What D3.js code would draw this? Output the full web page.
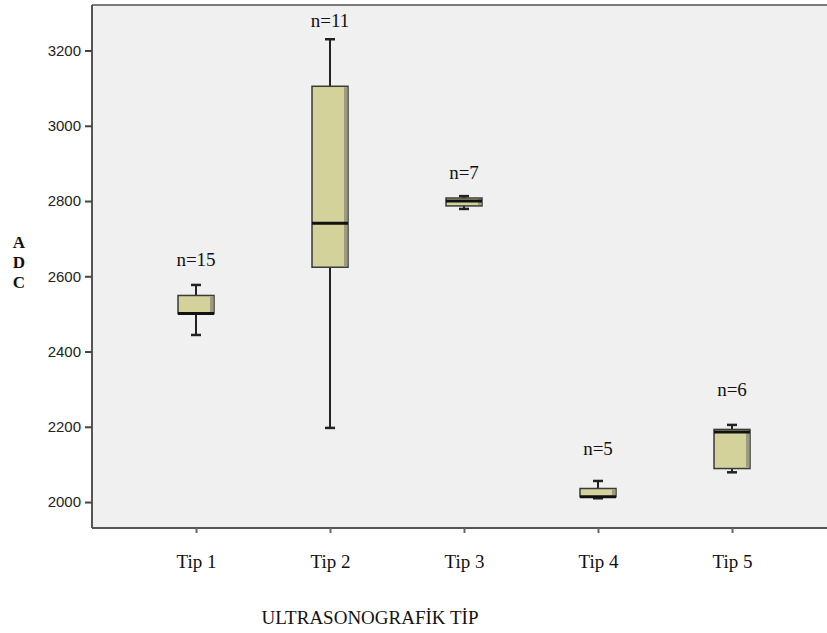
<!DOCTYPE html>
<html>
<head>
<meta charset="utf-8">
<script src="https://cdn.jsdelivr.net/npm/d3@7"></script>
<style>
  html, body { margin: 0; padding: 0; background: #fff; }
  svg { display: block; }
</style>
</head>
<body>
<svg width="827" height="633"></svg>
<script>
const svg = d3.select("svg");
const width = +svg.attr("width");
const height = +svg.attr("height");

// data
const categories = ["Tip 1", "Tip 2", "Tip 3", "Tip 4", "Tip 5"];
const counts = [15, 11, 7, 5, 6];
const whiskerLow = [2444, 2197, 2779, 2010, 2079];
const q1 = [2501, 2624, 2787, 2014, 2089];
const median = [2501, 2741, 2800, 2014, 2186];
const q3 = [2549, 3105, 2808, 2036, 2193];
const whiskerHigh = [2577, 3230, 2813, 2056, 2205];
// where the n= labels sit, in ADC units
const labelAt = [2627, 3262, 2858, 2125, 2282];
const yTicks = [2000, 2200, 2400, 2600, 2800, 3000, 3200];

const plot = { left: 92, top: 5, right: 835, bottom: 528 };
const serif = "'Liberation Serif', 'Times New Roman', serif";
const sans = "'Liberation Sans', Arial, sans-serif";

const x = d3.scalePoint().domain(categories).range([196, 732]);
const y = d3.scaleLinear().domain([1931, 3321]).range([plot.bottom, plot.top]);

// plot background
svg.append("rect")
  .attr("x", plot.left)
  .attr("y", plot.top)
  .attr("width", plot.right - plot.left)
  .attr("height", plot.bottom - plot.top)
  .attr("fill", "#f0f0f0");

// top frame line
svg.append("line")
  .attr("x1", plot.left).attr("x2", plot.right)
  .attr("y1", plot.top).attr("y2", plot.top)
  .attr("stroke", "#7a7a7a").attr("stroke-width", 2);

// y axis
const yAxis = svg.append("g")
  .attr("transform", `translate(${plot.left},0)`)
  .call(d3.axisLeft(y).tickValues(yTicks).tickSize(7).tickPadding(4).tickFormat(d3.format("d")));
yAxis.select(".domain").attr("stroke", "#555").attr("stroke-width", 2)
  .attr("d", `M0,${plot.top}V${plot.bottom}`);
yAxis.selectAll(".tick line").attr("stroke", "#444").attr("stroke-width", 2);
yAxis.selectAll(".tick text").attr("font-family", sans).attr("font-size", 15).attr("fill", "#222");

// x axis
const xAxis = svg.append("g")
  .attr("transform", `translate(0,${plot.bottom})`)
  .call(d3.axisBottom(x).tickSize(5).tickPadding(22));
xAxis.select(".domain").attr("stroke", "#555").attr("stroke-width", 2)
  .attr("d", `M${plot.left},0H${plot.right}`);
xAxis.selectAll(".tick line").attr("stroke", "#666").attr("stroke-width", 2);
xAxis.selectAll(".tick text").attr("font-family", serif).attr("font-size", 19).attr("fill", "#111");

// boxes
const boxW = 36;
const boxes = categories.map((c, i) => ({
  cat: c, n: counts[i], lo: whiskerLow[i], q1: q1[i], med: median[i], q3: q3[i], hi: whiskerHigh[i], lab: labelAt[i]
}));

const g = svg.append("g");
const box = g.selectAll("g.box").data(boxes).enter().append("g").attr("class", "box");

// whiskers
box.append("line")
  .attr("x1", d => x(d.cat)).attr("x2", d => x(d.cat))
  .attr("y1", d => y(d.hi)).attr("y2", d => y(d.lo))
  .attr("stroke", "#222").attr("stroke-width", 2);
box.append("line")
  .attr("x1", d => x(d.cat) - 5).attr("x2", d => x(d.cat) + 5)
  .attr("y1", d => y(d.hi)).attr("y2", d => y(d.hi))
  .attr("stroke", "#222").attr("stroke-width", 2.5);
box.append("line")
  .attr("x1", d => x(d.cat) - 5).attr("x2", d => x(d.cat) + 5)
  .attr("y1", d => y(d.lo)).attr("y2", d => y(d.lo))
  .attr("stroke", "#222").attr("stroke-width", 2.5);

// box body
box.append("rect")
  .attr("x", d => x(d.cat) - boxW / 2)
  .attr("y", d => y(d.q3))
  .attr("width", boxW)
  .attr("height", d => Math.max(1, y(d.q1) - y(d.q3)))
  .attr("fill", "#d3d29b")
  .attr("stroke", "#3a3a3a")
  .attr("stroke-width", 1.5);

// darker right edge
box.append("rect")
  .attr("x", d => x(d.cat) + boxW / 2 - 4)
  .attr("y", d => y(d.q3) + 1)
  .attr("width", 3.5)
  .attr("height", d => Math.max(0, y(d.q1) - y(d.q3) - 2))
  .attr("fill", "#9c9b80");

// median
box.append("line")
  .attr("x1", d => x(d.cat) - boxW / 2).attr("x2", d => x(d.cat) + boxW / 2)
  .attr("y1", d => y(d.med)).attr("y2", d => y(d.med))
  .attr("stroke", "#111").attr("stroke-width", 3);

// n labels
box.append("text")
  .attr("x", d => x(d.cat))
  .attr("y", d => y(d.lab))
  .attr("text-anchor", "middle")
  .attr("font-family", serif)
  .attr("font-size", 19)
  .attr("fill", "#111")
  .text(d => `n=${d.n}`);

// y axis title, stacked letters
const yTitle = ["A", "D", "C"];
svg.append("g").selectAll("text").data(yTitle).enter().append("text")
  .attr("x", 19)
  .attr("y", (d, i) => 248 + i * 20)
  .attr("text-anchor", "middle")
  .attr("font-family", serif)
  .attr("font-weight", "bold")
  .attr("font-size", 17)
  .attr("fill", "#111")
  .text(d => d);

// x axis title
svg.append("text")
  .attr("x", 370)
  .attr("y", 624)
  .attr("text-anchor", "middle")
  .attr("font-family", serif)
  .attr("font-size", 19)
  .attr("fill", "#111")
  .text("ULTRASONOGRAFİK TİP");
</script>
</body>
</html>
